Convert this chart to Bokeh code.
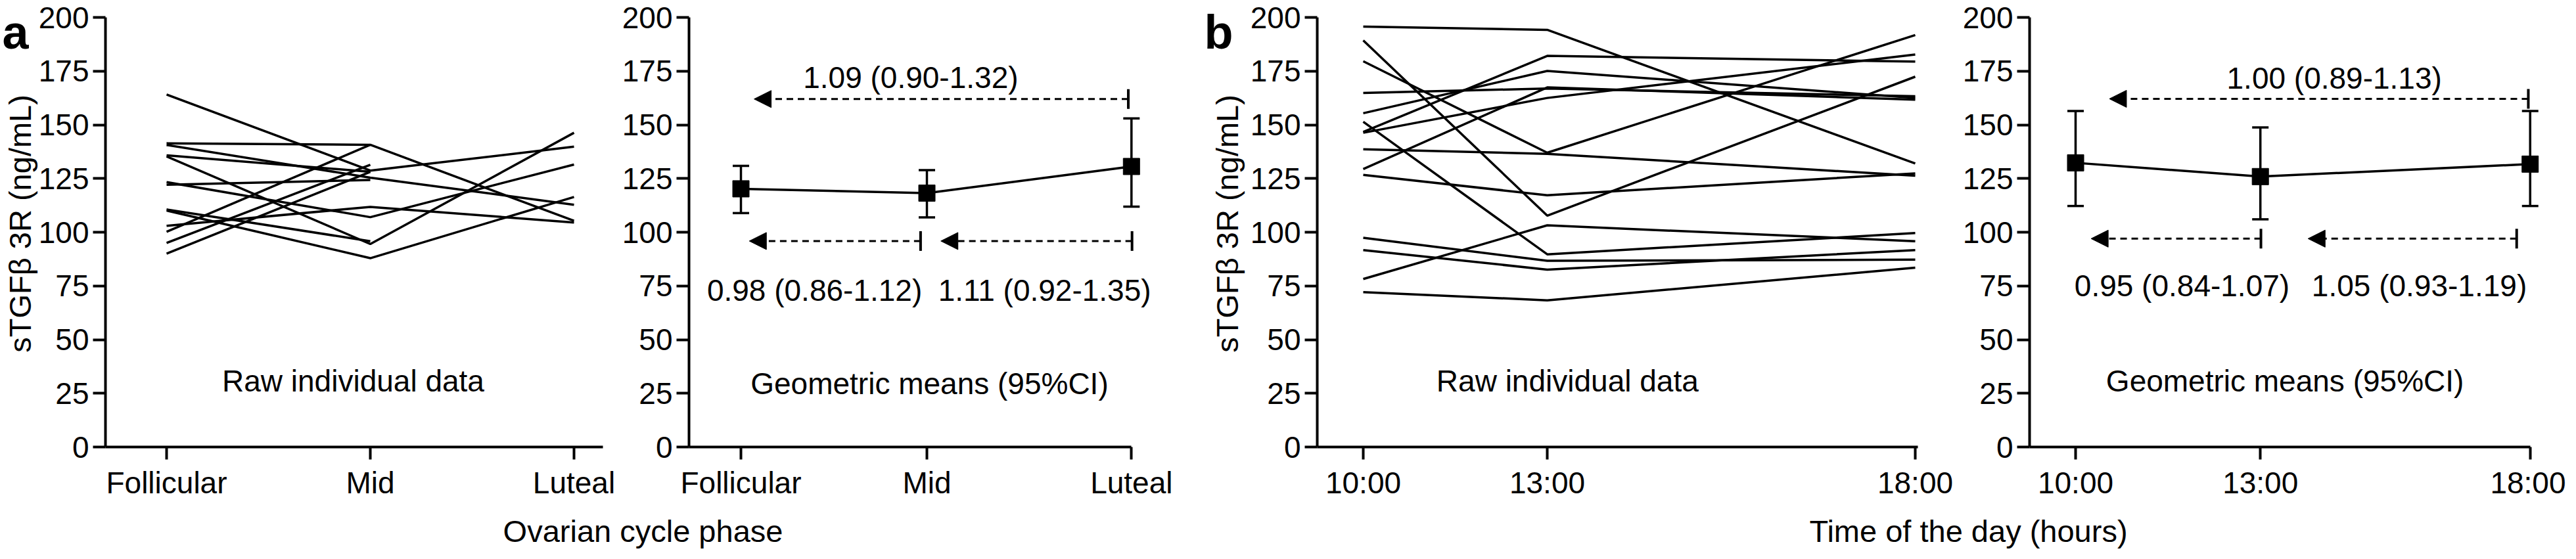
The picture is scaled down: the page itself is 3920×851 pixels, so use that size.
import math
from bokeh.plotting import figure
from bokeh.models import (Range1d, FixedTicker, ColumnDataSource, Whisker, TeeHead,
                          NormalHead, Arrow, LinearAxis)
from bokeh.embed import file_html
from bokeh.resources import INLINE
from bokeh.core.properties import value

FONT = "Liberation Sans"
FS = "46px"

# ---------------- data ----------------
phase_labels = ["Follicular", "Mid", "Luteal"]
phase_pos_raw = [0, 1, 2]
phase_pos_mean = [0, 1, 2.1]

# raw individual data, sTGFb 3R (ng/mL); None = no value
cycle_follicular = [164.1, 141.4, 140.6, 135.8, 135.3, 123.3, 122.1, 110.6, 110.1, 103.0, 100.2, 95.0, 90.0]
cycle_mid        = [128.7, 140.7, 125.4, 128.1, 94.5, 107.0, 124.3, 95.8, 87.9, 111.8, 140.7, 131.4, 128.1]
cycle_luteal     = [139.8, 105.3, 112.8, None, 146.3, 131.5, None, None, 116.4, 104.5, None, None, None]

cycle_gmean   = [120.2, 118.2, 130.6]
cycle_ci_low  = [108.9, 106.9, 111.9]
cycle_ci_high = [130.9, 128.9, 153.0]
cycle_ratios  = ["1.09 (0.90-1.32)", "0.98 (0.86-1.12)", "1.11 (0.92-1.35)"]

time_labels = ["10:00", "13:00", "18:00"]
time_pos_raw = [0, 1, 3]
time_pos_mean = [0, 1, 2.46]

time_10 = [195.7, 189.3, 179.6, 164.8, 155.4, 146.7, 146.3, 151.4, 129.4, 138.6, 126.7, 97.4, 91.7, 78.2, 72.1]
time_13 = [194.2, 107.7, 137.0, 166.9, 175.1, 182.1, 162.5, 89.7, 167.4, 136.5, 117.2, 86.7, 82.6, 103.2, 68.3]
time_18 = [132.0, 172.4, 191.8, 163.3, 162.5, 179.4, 182.7, 99.6, 161.7, 126.3, 127.4, 87.2, 91.7, 95.8, 83.5]

time_gmean   = [132.3, 125.9, 131.7]
time_ci_low  = [112.2, 106.0, 112.2]
time_ci_high = [156.4, 148.8, 156.4]
time_ratios  = ["1.00 (0.89-1.13)", "0.95 (0.84-1.07)", "1.05 (0.93-1.19)"]

y_ticks = [0, 25, 50, 75, 100, 125, 150, 175, 200]

# ---------------- canvas geometry ----------------
W, H = 3904, 835
Y_TOP_PX, Y_BOT_PX = 26, 680          # screen rows of y = 200 and y = 0
PX_PER_Y = (Y_BOT_PX - Y_TOP_PX) / 200.0
y_start = -(H - Y_BOT_PX) / PX_PER_Y
y_end = 200 + Y_TOP_PX / PX_PER_Y

p = figure(width=W, height=H, x_range=Range1d(0, W), y_range=Range1d(y_start, y_end),
           output_backend="svg", toolbar_location=None, title=None,
           x_axis_location=None, y_axis_location=None, min_border=0)
p.xgrid.visible = False
p.ygrid.visible = False
p.outline_line_color = None
p.background_fill_color = "white"
p.border_fill_color = "white"

# panel definitions: px of first category, px per unit, y-axis px, x-axis end (data units)
panels = {
    "a1": dict(px0=253, unit=310.0, yaxis=160, xend=2.142, ticks=phase_pos_raw, labels=phase_labels),
    "a2": dict(px0=1127, unit=283.0, yaxis=1048, xend=phase_pos_mean[-1], ticks=phase_pos_mean, labels=phase_labels),
    "b1": dict(px0=2074, unit=280.0, yaxis=2004, xend=3.014, ticks=time_pos_raw, labels=time_labels),
    "b2": dict(px0=3158, unit=281.2, yaxis=3088, xend=time_pos_mean[-1], ticks=time_pos_mean, labels=time_labels),
}


def style_axis(ax):
    ax.axis_line_width = 4
    ax.axis_line_color = "black"
    ax.major_tick_line_width = 4
    ax.major_tick_line_color = "black"
    ax.major_tick_out = 19
    ax.major_tick_in = 0
    ax.minor_tick_line_color = None
    ax.major_label_text_font = FONT
    ax.major_label_text_font_size = FS
    ax.major_label_text_color = "black"


for name, d in panels.items():
    start = -d["px0"] / d["unit"]
    end = start + W / d["unit"]
    p.extra_x_ranges[name] = Range1d(start, end)
    xstart = (d["yaxis"] - d["px0"]) / d["unit"]

    xa = LinearAxis(x_range_name=name, fixed_location=0, bounds=(xstart, d["xend"]),
                    ticker=FixedTicker(ticks=d["ticks"]),
                    major_label_overrides={t: l for t, l in zip(d["ticks"], d["labels"])},
                    major_label_standoff=9)
    style_axis(xa)
    p.add_layout(xa, "below")

    ya = LinearAxis(fixed_location=d["yaxis"], bounds=(0, 200),
                    ticker=FixedTicker(ticks=y_ticks), major_label_standoff=6)
    style_axis(ya)
    p.add_layout(ya, "left")


def add_text(x, y, t, rng="default", size=FS, align="center", baseline="middle",
             angle=0.0, style="normal"):
    p.text(x=[x], y=[y], text=[t], x_range_name=rng, text_font=value(FONT),
           text_font_size=size, text_font_style=style, text_color="black",
           text_align=align, text_baseline=baseline, angle=angle)


def add_arrow(rng, x_tee, x_tip, y):
    p.add_layout(Arrow(start=TeeHead(size=30, line_width=4, line_color="black"),
                       end=NormalHead(size=26, fill_color="black", line_color="black", line_width=1),
                       x_start=x_tee, y_start=y, x_end=x_tip, y_end=y, x_range_name=rng,
                       line_color="black", line_width=3, line_dash="10 7"))


def raw_lines(rng, pos, series):
    xs, ys = [], []
    for vals in zip(*series):
        xs.append([x for x, v in zip(pos, vals) if v is not None])
        ys.append([v for v in vals if v is not None])
    p.multi_line(xs, ys, line_color="black", line_width=3.5, x_range_name=rng)


def means(rng, pos, gm, lo, hi):
    src = ColumnDataSource(dict(x=pos, y=gm, lo=lo, hi=hi))
    p.line("x", "y", source=src, line_color="black", line_width=3.5, x_range_name=rng)
    p.add_layout(Whisker(base="x", upper="hi", lower="lo", source=src, dimension="height",
                         x_range_name=rng, line_color="black", line_width=3.5,
                         upper_head=TeeHead(size=25, line_width=3.5, line_color="black"),
                         lower_head=TeeHead(size=25, line_width=3.5, line_color="black")))
    p.scatter("x", "y", source=src, marker="square", size=25, color="black", x_range_name=rng)


def ypx(row_px):
    return (Y_BOT_PX - row_px) / PX_PER_Y


# ---------------- panel a ----------------
raw_lines("a1", phase_pos_raw, [cycle_follicular, cycle_mid, cycle_luteal])
add_text(0.916, 30.8, "Raw individual data", rng="a1")

means("a2", phase_pos_mean, cycle_gmean, cycle_ci_low, cycle_ci_high)
add_arrow("a2", 2.083, 0.071, 162.0)
add_arrow("a2", 0.966, 0.045, 95.9)
add_arrow("a2", 2.103, 1.075, 95.9)
add_text(0.913, 172.0, cycle_ratios[0], rng="a2")
add_text(0.396, 73.0, cycle_ratios[1], rng="a2")
add_text(1.633, 73.0, cycle_ratios[2], rng="a2")
add_text(1.014, 29.5, "Geometric means (95%CI)", rng="a2")

# ---------------- panel b ----------------
raw_lines("b1", time_pos_raw, [time_10, time_13, time_18])
add_text(1.11, 30.8, "Raw individual data", rng="b1")

means("b2", time_pos_mean, time_gmean, time_ci_low, time_ci_high)
add_arrow("b2", 2.45, 0.183, 162.1)
add_arrow("b2", 1.003, 0.084, 97.0)
add_arrow("b2", 2.387, 1.258, 97.0)
add_text(1.40, 171.6, time_ratios[0], rng="b2")
add_text(0.576, 75.2, time_ratios[1], rng="b2")
add_text(1.86, 75.2, time_ratios[2], rng="b2")
add_text(1.133, 30.8, "Geometric means (95%CI)", rng="b2")

# ---------------- labels in screen-pixel coordinates (default x range) ----------------
add_text(3, ypx(48), "a", size="72px", align="left", baseline="alphabetic", style="bold")
add_text(1832, ypx(48), "b", size="72px", align="left", baseline="alphabetic", style="bold")
add_text(30, 104, "sTGFβ 3R (ng/mL)", size="47px", angle=math.pi / 2)
add_text(1867, 104, "sTGFβ 3R (ng/mL)", size="47px", angle=math.pi / 2)
add_text(978, ypx(808), "Ovarian cycle phase", size="47px", baseline="alphabetic")
add_text(2995, ypx(808), "Time of the day (hours)", size="47px", baseline="alphabetic")

with open("out.html", "w") as f:
    f.write(file_html(p, INLINE))
